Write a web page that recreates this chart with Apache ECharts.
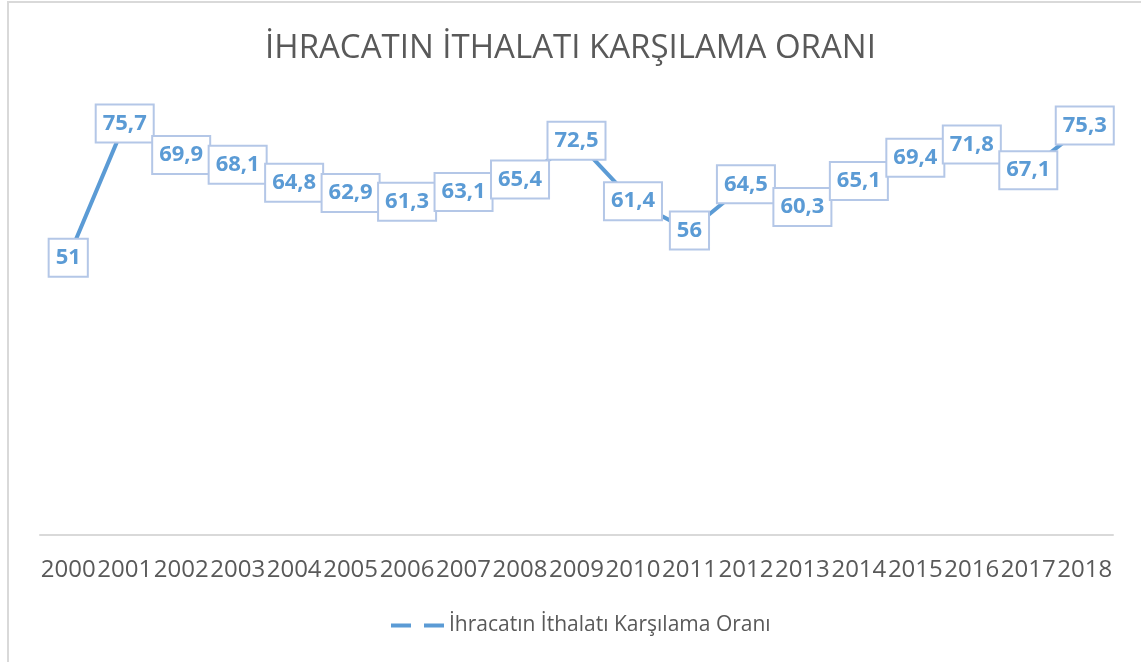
<!DOCTYPE html>
<html>
<head>
<meta charset="utf-8">
<script src="https://cdn.jsdelivr.net/npm/echarts@6/dist/echarts.min.js"></script>
<style>
  html, body { margin: 0; padding: 0; background: #fff; }
  #chart { width: 1141px; height: 662px; }
</style>
</head>
<body>
<div id="chart"></div>
<script>
// veri
const years = ['2000', '2001', '2002', '2003', '2004', '2005', '2006', '2007', '2008', '2009',
  '2010', '2011', '2012', '2013', '2014', '2015', '2016', '2017', '2018']
const ratios = [51, 75.7, 69.9, 68.1, 64.8, 62.9, 61.3, 63.1, 65.4, 72.5,
  61.4, 56, 64.5, 60.3, 65.1, 69.4, 71.8, 67.1, 75.3]
const seriesName = 'İhracatın İthalatı Karşılama Oranı'
const titleText = 'İHRACATIN İTHALATI KARŞILAMA ORANI'

const blue = '#5B9BD5'
const grey = '#595959'

const chart = echarts.init(document.getElementById('chart'), null, { renderer: 'canvas' })

// etiket kutuları noktanın üstünde, beyaz zemin çizgiyi örtüyor
const labelStyle = {
  show: true,
  position: 'inside',
  formatter: (p) => String(p.value).replace('.', ','),
  color: blue,
  fontFamily: 'Open Sans',
  fontWeight: 'bold',
  fontSize: 22,
  lineHeight: 22,
  backgroundColor: '#fff',
  borderColor: '#B4C7E7',
  borderWidth: 2,
  padding: [7, 6, 7, 6]
}

chart.setOption({
  backgroundColor: '#fff',
  animation: false,
  graphic: [{
    type: 'rect',
    shape: { x: 8, y: 2, width: 1200, height: 720 },
    style: { fill: 'none', stroke: '#D9D9D9', lineWidth: 2 },
    silent: true,
    z: -1
  }],
  title: {
    text: titleText,
    left: 'center',
    top: 27,
    textStyle: {
      color: grey,
      fontFamily: 'Open Sans',
      fontWeight: 'normal',
      fontSize: 33
    }
  },
  legend: {
    data: [seriesName],
    bottom: 21,
    left: 384,
    itemWidth: 53,
    itemHeight: 4,
    itemGap: 4,
    itemStyle: { opacity: 0 },
    lineStyle: { color: blue, width: 4, type: [20, 13], cap: 'butt' },
    textStyle: {
      color: grey,
      fontFamily: 'Open Sans',
      fontSize: 21
    }
  },
  grid: {
    left: 40,
    right: 28,
    top: 100,
    bottom: 127
  },
  xAxis: {
    type: 'category',
    data: years,
    boundaryGap: true,
    axisLine: { lineStyle: { color: '#D9D9D9', width: 2 } },
    axisTick: { show: false },
    axisLabel: {
      interval: 0,
      margin: 23,
      color: grey,
      fontFamily: 'Open Sans',
      fontSize: 24
    }
  },
  yAxis: {
    type: 'value',
    min: 0,
    max: 80,
    show: false,
    splitLine: { show: false }
  },
  series: [
    {
      name: seriesName,
      type: 'line',
      data: ratios,
      symbol: 'circle',
      symbolSize: 0,
      showSymbol: true,
      itemStyle: { color: blue },
      lineStyle: { color: blue, width: 4, cap: 'butt' },
      label: labelStyle
    }
  ]
})
</script>
</body>
</html>
